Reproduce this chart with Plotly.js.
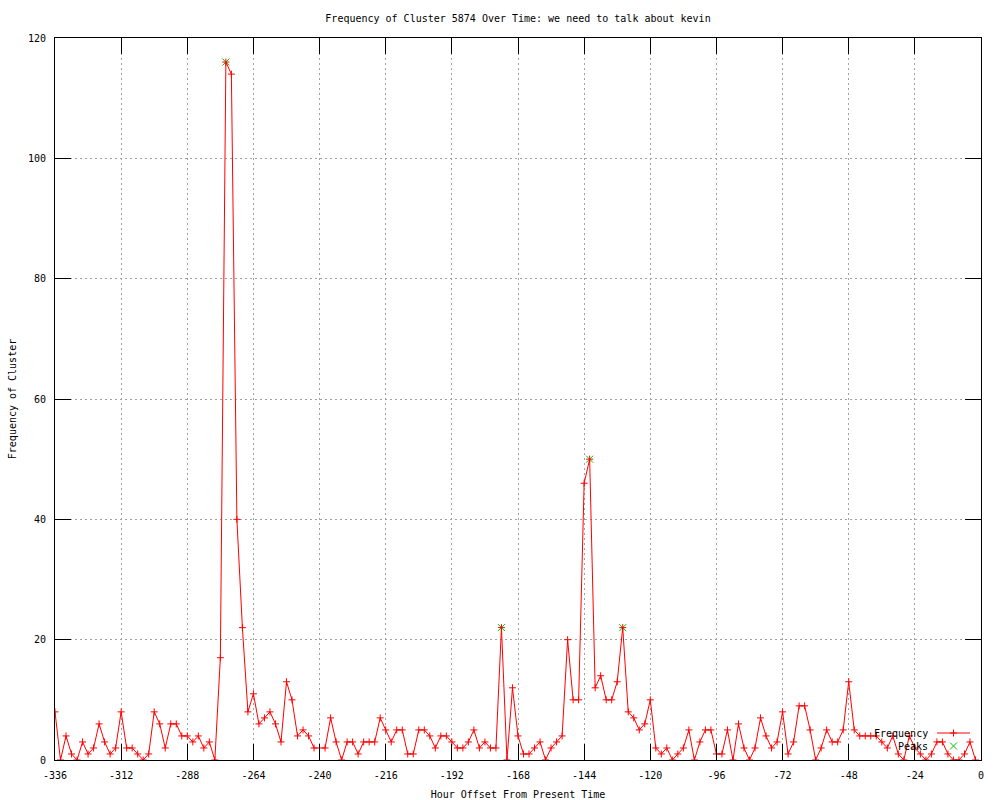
<!DOCTYPE html>
<html>
<head>
<meta charset="utf-8">
<script src="https://cdn.plot.ly/plotly-3.0.1.min.js"></script>
<style>html,body{margin:0;padding:0;background:#fff;}#chart{width:1000px;height:800px;}</style>
</head>
<body>
<div id="chart"></div>
<script>
var hours = [
-336,-334,-332,-330,-328,-326,-324,-322,-320,-318,
-316,-314,-312,-310,-308,-306,-304,-302,-300,-298,
-296,-294,-292,-290,-288,-286,-284,-282,-280,-278,
-276,-274,-272,-270,-268,-266,-264,-262,-260,-258,
-256,-254,-252,-250,-248,-246,-244,-242,
-238,-236,-234,-232,-230,-228,-226,-224,-222,-220,
-218,-216,-214,-212,-210,-208,-206,-204,-202,-200,
-198,-196,-194,-192,-190,-188,-186,-184,-182,-180,
-178,-176,-174,-172,-170,-168,-166,-164,-162,-160,
-158,-156,-154,-152,-150,-148,-146,-144,-142,-140,
-138,-136,-134,-132,-130,-128,-126,-124,-122,-120,
-118,-116,-114,-112,-110,-108,-106,-104,-102,-100,
-98,-96,-94,-92,-90,-88,-86,-84,-82,-80,
-78,-76,-74,-72,-70,-68,-66,-64,-62,-60,
-58,-56,-54,-52,-50,-48,-46,-44,-42,-40,
-38,-36,-34,-32,-30,-28,-26,-24,-22,-20,
-18,-16,-14,-12,-10,-8,-6,-4,-2
];
var frequency = [
8,0,4,1,0,3,1,2,6,3,
1,2,8,2,2,1,0,1,8,6,
2,6,6,4,4,3,4,2,3,0,
17,116,114,40,22,8,11,6,7,8,
6,3,13,10,4,5,4,2,
2,7,3,0,3,3,1,3,3,3,
7,5,3,5,5,1,1,5,5,4,
2,4,4,3,2,2,3,5,2,3,
2,2,22,0,12,4,1,1,2,3,
0,2,3,4,20,10,10,46,50,12,
14,10,10,13,22,8,7,5,6,10,
2,1,2,0,1,2,5,0,3,5,
5,1,1,5,0,6,2,0,2,7,
4,2,3,8,1,3,9,9,5,0,
2,5,3,3,5,13,5,4,4,4,
4,3,2,4,1,0,4,2,1,0,
1,3,3,1,0,0,1,3,0
];
var peakHours = [-274, -174, -142, -130];
var peakValues = [116, 22, 50, 22];

var xTickVals = [-336,-312,-288,-264,-240,-216,-192,-168,-144,-120,-96,-72,-48,-24,0];
var xTickText = ["-336","-312","-288","-264","-240","-216","-192","-168","-144","-120","-96","-72","-48","-24","0"];
var yTickVals = [0,20,40,60,80,100,120];
var yTickText = ["0","20","40","60","80","100","120"];

var seriesNames = ["Frequency", "Peaks"];
var RED = "#ff0000", GREEN = "#00c000";
var FONT = "DejaVu Sans Mono, Liberation Mono, monospace";

var traces = [
  {
    x: peakHours, y: peakValues, type: "scatter", mode: "markers",
    name: seriesNames[1], showlegend: false,
    marker: {symbol: "x-thin-open", size: 7, line: {color: GREEN, width: 1}, color: GREEN}
  },
  {
    x: hours, y: frequency, type: "scatter", mode: "lines+markers",
    name: seriesNames[0], showlegend: false,
    line: {color: RED, width: 1},
    marker: {symbol: "cross-thin-open", size: 5, line: {color: RED, width: 1}, color: RED}
  }
];

// legend drawn gnuplot-style: text first, sample on the right
var L = 55, R = 981, T = 38, B = 760;
function px(x){ return (x - L) / (R - L); }
function py(y){ return (B - y) / (B - T); }

var axisCommon = {
  ticks: "inside", ticklen: 16, tickwidth: 1, tickcolor: "#000",
  showline: true, linecolor: "#000", linewidth: 1, mirror: "allticks",
  showgrid: true, gridcolor: "#a0a0a0", gridwidth: 1, griddash: "2px,3px",
  zeroline: false, fixedrange: true,
  tickfont: {family: FONT, size: 10, color: "#000"}
};

var layout = {
  width: 1000, height: 800,
  margin: {l: L, r: 1000 - R, t: T, b: 800 - B, pad: 0},
  paper_bgcolor: "#fff", plot_bgcolor: "#fff",
  showlegend: false,
  title: {
    text: "Frequency of Cluster 5874 Over Time: we need to talk about kevin",
    font: {family: FONT, size: 10, color: "#000"},
    x: 0.5, xref: "paper", xanchor: "center",
    y: 1 - 18/800, yref: "container", yanchor: "middle"
  },
  xaxis: Object.assign({}, axisCommon, {
    range: [-336, 0], tickmode: "array", tickvals: xTickVals, ticktext: xTickText,
    ticklabelstandoff: 6,
    title: {text: "Hour Offset From Present Time", font: {family: FONT, size: 10, color: "#000"}, standoff: 10}
  }),
  yaxis: Object.assign({}, axisCommon, {
    range: [0, 120], tickmode: "array", tickvals: yTickVals, ticktext: yTickText,
    ticklabelstandoff: 6,
    title: {text: "Frequency of Cluster", font: {family: FONT, size: 10, color: "#000"}, standoff: 9}
  }),
  annotations: [
    {text: seriesNames[0], xref: "paper", yref: "paper", x: px(930), y: py(733),
     xanchor: "right", yanchor: "middle", showarrow: false,
     font: {family: FONT, size: 10, color: "#000"}},
    {text: seriesNames[1], xref: "paper", yref: "paper", x: px(930), y: py(746),
     xanchor: "right", yanchor: "middle", showarrow: false,
     font: {family: FONT, size: 10, color: "#000"}}
  ],
  shapes: [
    {type: "line", xref: "paper", yref: "paper", x0: px(937), x1: px(970), y0: py(733), y1: py(733),
     line: {color: RED, width: 1}},
    {type: "path", xref: "paper", yref: "paper", xsizemode: "pixel", ysizemode: "pixel",
     xanchor: px(953.5), yanchor: py(733), path: "M-3.5,0 L3.5,0 M0,-3.5 L0,3.5",
     line: {color: RED, width: 1}},
    {type: "path", xref: "paper", yref: "paper", xsizemode: "pixel", ysizemode: "pixel",
     xanchor: px(953.5), yanchor: py(746), path: "M-3.5,-3.5 L3.5,3.5 M-3.5,3.5 L3.5,-3.5",
     line: {color: GREEN, width: 1}}
  ]
};

Plotly.newPlot("chart", traces, layout, {staticPlot: true, displayModeBar: false});
</script>
</body>
</html>
